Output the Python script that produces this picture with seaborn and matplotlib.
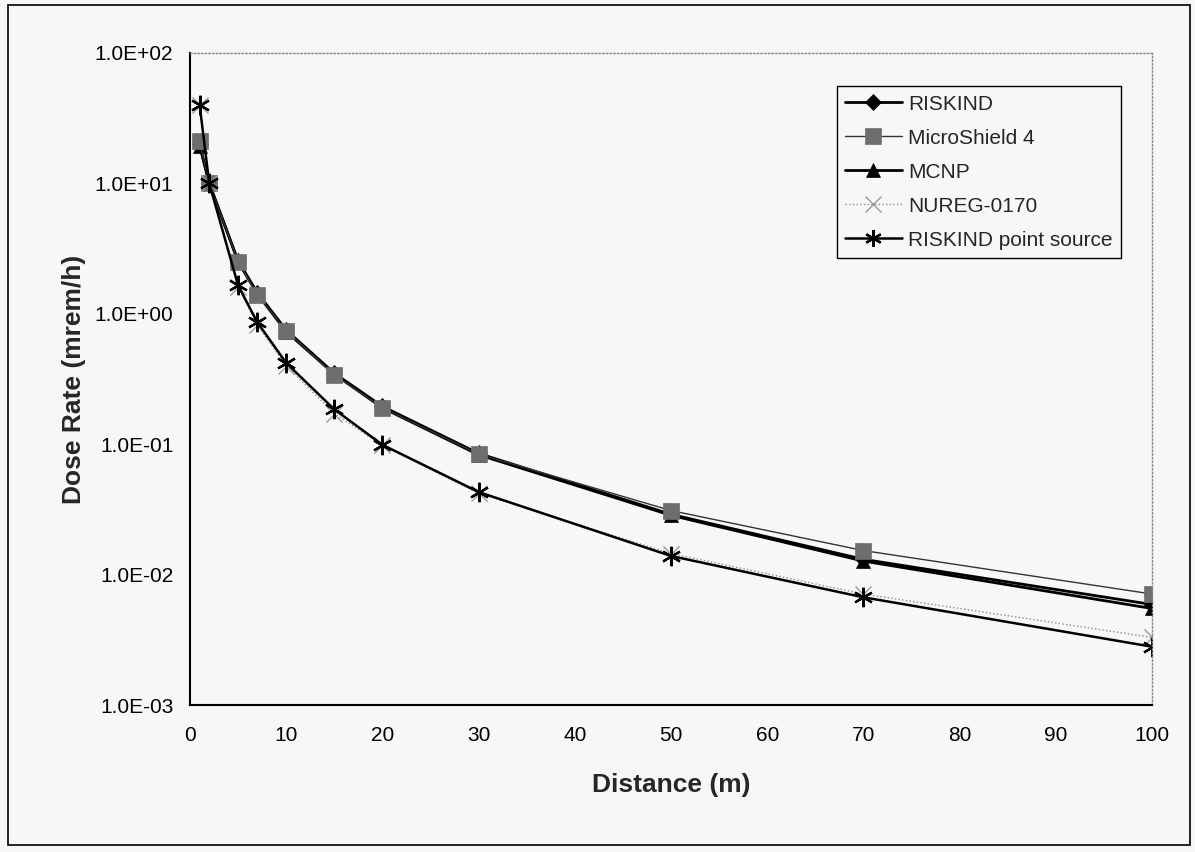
import numpy as np
import pandas as pd
import matplotlib
matplotlib.use("Agg")
import matplotlib.pyplot as plt
import matplotlib.ticker as mticker
from matplotlib.patches import Rectangle
import seaborn as sns

# distances (m)
distance = [1, 2, 5, 7, 10, 15, 20, 30, 50, 70, 100]

# dose rates (mrem/h)
riskind = [20, 10, 2.55, 1.45, 0.75, 0.35, 0.195, 0.085, 0.029, 0.0131, 0.0059]
microshield = [21, 10, 2.5, 1.40, 0.74, 0.34, 0.19, 0.084, 0.031, 0.0153, 0.0071]
mcnp = [19.5, 10, 2.5, 1.42, 0.73, 0.345, 0.19, 0.083, 0.0285, 0.0127, 0.0055]
nureg = [40, 10, 1.6, 0.82, 0.40, 0.172, 0.098, 0.042, 0.0145, 0.0071, 0.0033]
point_source = [40, 10, 1.65, 0.86, 0.42, 0.185, 0.099, 0.043, 0.0139, 0.0067, 0.0028]

series_names = ["RISKIND", "MicroShield 4", "MCNP", "NUREG-0170", "RISKIND point source"]
series_values = [riskind, microshield, mcnp, nureg, point_source]

sns.set_theme(style="white")
plt.rcParams["font.family"] = ["Liberation Sans", "DejaVu Sans"]

bg = "#f7f7f7"
fig = plt.figure(figsize=(11.95, 8.52), dpi=100, facecolor=bg)
ax = fig.add_axes([0.159, 0.1725, 0.805, 0.7653])
ax.set_facecolor(bg)

# styling per series
styles = {
    "RISKIND": dict(color="black", marker="D", markersize=8, linewidth=2.0,
                    linestyle="-", mfc="black", mec="black", mew=0.5, z=2.0),
    "MicroShield 4": dict(color="#333333", marker="s", markersize=12, linewidth=1.0,
                          linestyle="-", mfc="#6e6e6e", mec="#6e6e6e", mew=0.5, z=2.2),
    "MCNP": dict(color="black", marker="^", markersize=10, linewidth=2.0,
                 linestyle="-", mfc="black", mec="black", mew=0.5, z=2.1),
    "NUREG-0170": dict(color="#8a8a8a", marker="x", markersize=11, linewidth=1.0,
                       linestyle=":", mfc="none", mec="#9a9a9a", mew=1.0, z=2.3),
    "RISKIND point source": dict(color="black", marker=(6, 2, 0), markersize=14,
                                 linewidth=1.8, linestyle="-", mfc="black",
                                 mec="black", mew=1.6, z=2.4),
}

for name, vals in zip(series_names, series_values):
    st = styles[name]
    sns.lineplot(
        x=distance, y=vals, ax=ax, label=name, sort=False,
        color=st["color"], marker=st["marker"], markersize=st["markersize"],
        linewidth=st["linewidth"], linestyle=st["linestyle"],
        markerfacecolor=st["mfc"], markeredgecolor=st["mec"],
        markeredgewidth=st["mew"], zorder=st["z"],
    )

ax.set_yscale("log")
ax.set_xlim(0, 100)
ax.set_ylim(1e-3, 1e2)
ax.set_xticks(np.arange(0, 101, 10))
ax.yaxis.set_major_locator(mticker.LogLocator(base=10, numticks=10))
ax.yaxis.set_minor_locator(mticker.NullLocator())
ax.yaxis.set_major_formatter(mticker.FuncFormatter(lambda v, p: f"{v:.1E}"))
ax.tick_params(axis="both", which="major", direction="inout", length=12,
               width=1, labelsize=15, colors="black", pad=9)
ax.tick_params(axis="y", pad=6)

for side in ["left", "bottom"]:
    ax.spines[side].set_color("black")
    ax.spines[side].set_linewidth(1.5)
for side in ["top", "right"]:
    ax.spines[side].set_color("#888888")
    ax.spines[side].set_linewidth(1.0)
    ax.spines[side].set_linestyle(":")

ax.set_xlabel("Distance (m)", fontsize=19, fontweight="bold", labelpad=20)
ax.set_ylabel("Dose Rate (mrem/h)", fontsize=19, fontweight="bold", labelpad=6)

leg = ax.legend(loc="upper left", bbox_to_anchor=(0.6726, 0.949), fontsize=15,
                frameon=True, fancybox=False, edgecolor="black", facecolor=bg,
                framealpha=1, handlelength=2.7, handletextpad=0.3,
                labelspacing=0.72, borderpad=0.4, borderaxespad=0)
leg.get_frame().set_linewidth(1.0)
for h in leg.legend_handles:
    h.set_markersize(min(h.get_markersize(), 12))

# outer chart border
fig.patches.append(Rectangle((0.007, 0.008), 0.989, 0.986, transform=fig.transFigure,
                             fill=False, edgecolor="black", linewidth=1.2))

fig.savefig("out.png", dpi=100, facecolor=bg)
